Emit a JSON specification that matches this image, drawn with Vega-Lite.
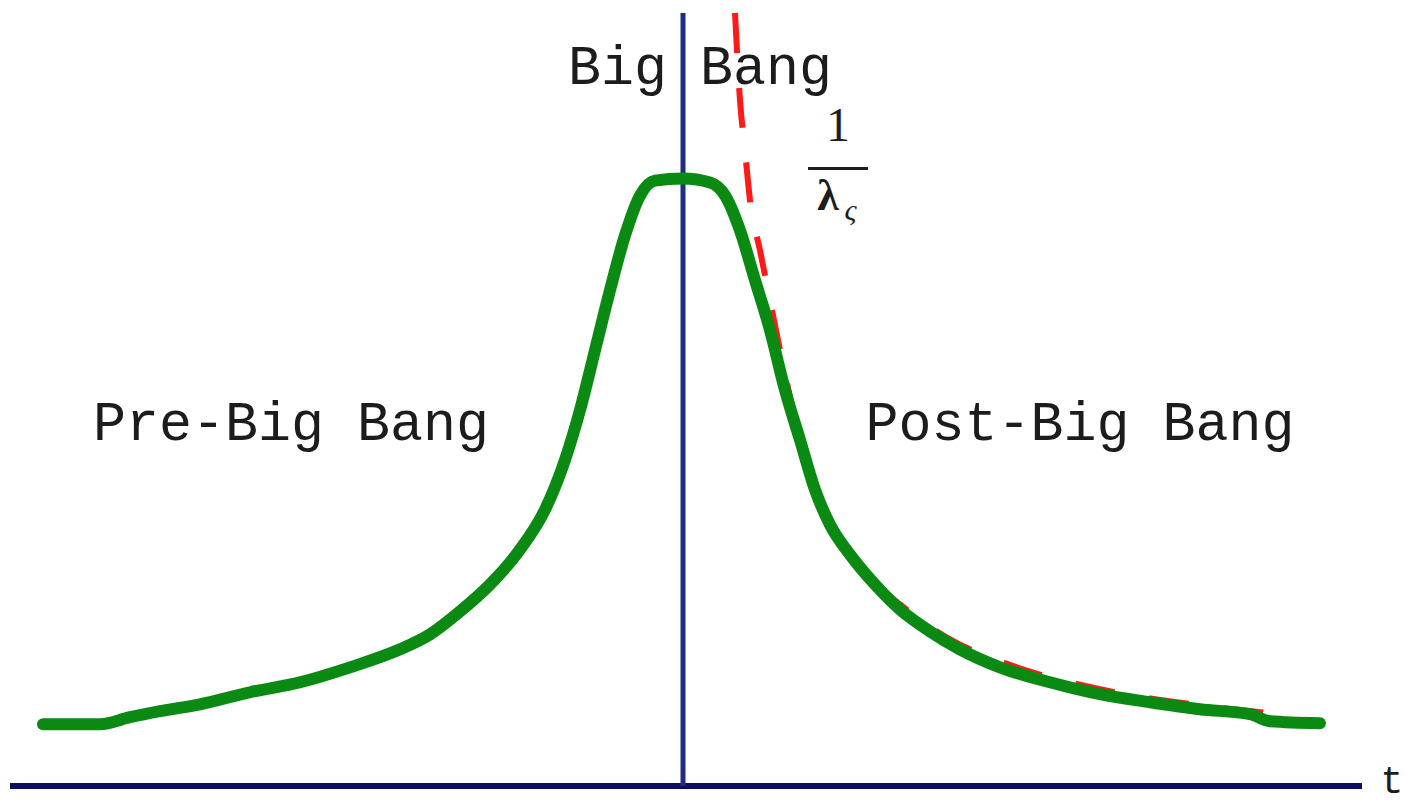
{
  "$schema": "https://vega.github.io/schema/vega-lite/v6.json",
  "width": 1416,
  "height": 801,
  "padding": 0,
  "autosize": {"type": "fit", "contains": "padding"},
  "background": "white",
  "config": {"view": {"stroke": null}},
  "datasets": {
    "scale_factor": [
      {"t": 0.776, "a": 12.726}, {"t": 0.851, "a": 11.281}, {"t": 0.925, "a": 10.46},
      {"t": 1.0, "a": 9.639}, {"t": 1.149, "a": 8.818}, {"t": 1.299, "a": 7.997},
      {"t": 1.448, "a": 7.176}, {"t": 1.642, "a": 6.19}, {"t": 1.925, "a": 5.041},
      {"t": 2.209, "a": 4.22}, {"t": 2.642, "a": 3.563}, {"t": 3.239, "a": 2.989},
      {"t": 3.985, "a": 2.414}, {"t": 4.731, "a": 2.053}, {"t": 6.224, "a": 1.593},
      {"t": 7.716, "a": 1.33}, {"t": 9.06, "a": 1.166}
    ],
    "curvature": [
      {"t": -9.552, "a": 1.018}, {"t": -8.701, "a": 1.018}, {"t": -8.254, "a": 1.133},
      {"t": -7.806, "a": 1.232}, {"t": -7.209, "a": 1.346}, {"t": -6.463, "a": 1.544},
      {"t": -5.716, "a": 1.708}, {"t": -4.97, "a": 1.954}, {"t": -4.224, "a": 2.25},
      {"t": -3.776, "a": 2.496}, {"t": -3.328, "a": 2.874}, {"t": -2.881, "a": 3.317},
      {"t": -2.433, "a": 3.892}, {"t": -2.06, "a": 4.548}, {"t": -1.761, "a": 5.369},
      {"t": -1.537, "a": 6.19}, {"t": -1.313, "a": 7.176}, {"t": -1.09, "a": 8.161},
      {"t": -0.866, "a": 9.064}, {"t": -0.642, "a": 9.721}, {"t": -0.418, "a": 9.967},
      {"t": 0.0, "a": 10.0}, {"t": 0.403, "a": 9.934}, {"t": 0.627, "a": 9.721},
      {"t": 0.851, "a": 9.146}, {"t": 1.075, "a": 8.325}, {"t": 1.299, "a": 7.504},
      {"t": 1.522, "a": 6.519}, {"t": 1.746, "a": 5.698}, {"t": 1.97, "a": 4.877},
      {"t": 2.194, "a": 4.302}, {"t": 2.493, "a": 3.81}, {"t": 2.866, "a": 3.317},
      {"t": 3.239, "a": 2.906}, {"t": 3.687, "a": 2.545}, {"t": 4.134, "a": 2.25},
      {"t": 4.731, "a": 1.954}, {"t": 5.478, "a": 1.708}, {"t": 6.224, "a": 1.511},
      {"t": 6.97, "a": 1.379}, {"t": 7.716, "a": 1.264}, {"t": 8.463, "a": 1.182},
      {"t": 8.761, "a": 1.067}, {"t": 9.507, "a": 1.034}
    ]
  },
  "encoding": {
    "x": {"field": "t", "type": "quantitative", "axis": null,
          "scale": {"domain": [-10.194, 10.94], "nice": false, "zero": false}},
    "y": {"field": "a", "type": "quantitative", "axis": null,
          "scale": {"domain": [-0.23, 12.923], "nice": false, "zero": false}}
  },
  "layer": [
    {
      "data": {"values": [{"t": -10.045, "t2": 10.134, "a": 0}]},
      "mark": {"type": "rule", "color": "#0b0f5c", "strokeWidth": 6},
      "encoding": {"x2": {"field": "t2"}}
    },
    {
      "data": {"values": [{"t": 0, "a": 0, "a2": 12.726}]},
      "mark": {"type": "rule", "color": "#1f2c86", "strokeWidth": 5},
      "encoding": {"y2": {"field": "a2"}}
    },
    {
      "data": {"name": "scale_factor"},
      "mark": {"type": "line", "color": "#ff1a1a", "strokeWidth": 6, "strokeDash": [40, 35], "interpolate": "monotone"},
      "encoding": {}
    },
    {
      "data": {"name": "curvature"},
      "mark": {"type": "line", "color": "#0a8a12", "strokeWidth": 12, "interpolate": "monotone", "strokeCap": "round"},
      "encoding": {}
    },
    {
      "data": {"values": [
        {"t": 0.254, "a": 11.56, "label": "Big Bang"},
        {"t": -5.851, "a": 5.698, "label": "Pre-Big Bang"},
        {"t": 5.925, "a": 5.698, "label": "Post-Big Bang"}
      ]},
      "mark": {"type": "text", "font": "Liberation Mono", "fontSize": 55, "color": "#1c1c1c", "align": "center", "baseline": "alphabetic"},
      "encoding": {"text": {"field": "label"}}
    },
    {
      "data": {"values": [{"t": 10.58, "a": 0.066, "label": "t"}]},
      "mark": {"type": "text", "font": "Liberation Mono", "fontSize": 38, "color": "#1c1c1c", "align": "center", "baseline": "middle"},
      "encoding": {"text": {"field": "label"}}
    },
    {
      "data": {"values": [{"t": 2.313, "a": 10.624, "label": "1"}]},
      "mark": {"type": "text", "font": "Liberation Serif", "fontSize": 48, "color": "#1c1c1c", "align": "center", "baseline": "alphabetic"},
      "encoding": {"text": {"field": "label"}}
    },
    {
      "data": {"values": [{"t": 1.866, "t2": 2.761, "a": 10.164}]},
      "mark": {"type": "rule", "color": "#1c1c1c", "strokeWidth": 3},
      "encoding": {"x2": {"field": "t2"}}
    },
    {
      "data": {"values": [{"t": 2.164, "a": 9.475, "label": "λ"}]},
      "mark": {"type": "text", "font": "Liberation Serif", "fontSize": 44, "fontWeight": "bold", "color": "#1c1c1c", "align": "center", "baseline": "alphabetic"},
      "encoding": {"text": {"field": "label"}}
    },
    {
      "data": {"values": [{"t": 2.5, "a": 9.31, "label": "ς"}]},
      "mark": {"type": "text", "font": "Liberation Serif", "fontSize": 30, "fontStyle": "italic", "color": "#1c1c1c", "align": "center", "baseline": "alphabetic"},
      "encoding": {"text": {"field": "label"}}
    }
  ]
}
